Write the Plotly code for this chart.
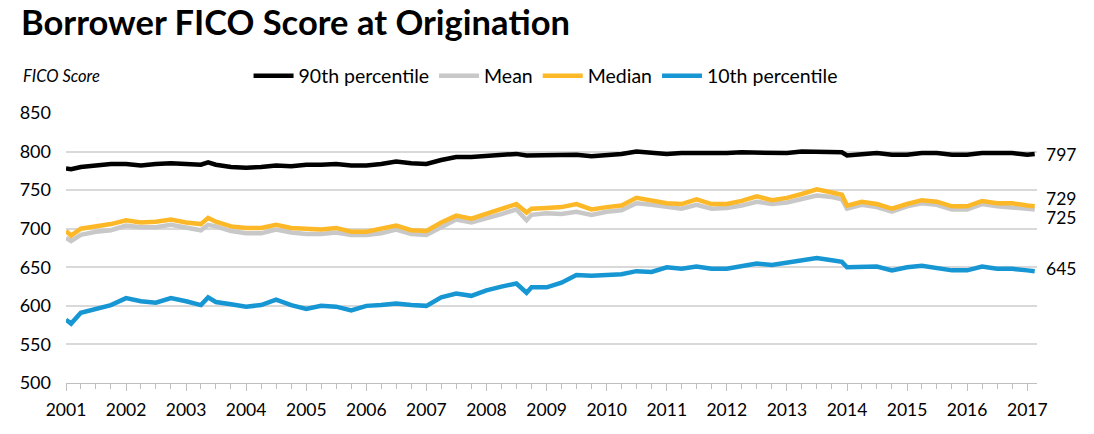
import plotly.graph_objects as go

dates = [
    "2001-01-01", "2001-02-01", "2001-04-01", "2001-07-01", "2001-10-01",
    "2002-01-01", "2002-04-01", "2002-07-01", "2002-10-01",
    "2003-01-01", "2003-04-01", "2003-05-15", "2003-07-01", "2003-10-01",
    "2004-01-01", "2004-04-01", "2004-07-01", "2004-10-01",
    "2005-01-01", "2005-04-01", "2005-07-01", "2005-10-01",
    "2006-01-01", "2006-04-01", "2006-07-01", "2006-10-01",
    "2007-01-01", "2007-04-01", "2007-07-01", "2007-10-01",
    "2008-01-01", "2008-04-01", "2008-07-01", "2008-09-01", "2008-10-01",
    "2009-01-01", "2009-04-01", "2009-07-01", "2009-10-01",
    "2010-01-01", "2010-04-01", "2010-07-01", "2010-10-01",
    "2011-01-01", "2011-04-01", "2011-07-01", "2011-10-01",
    "2012-01-01", "2012-04-01", "2012-07-01", "2012-10-01",
    "2013-01-01", "2013-04-01", "2013-07-01", "2013-10-01", "2013-12-01",
    "2014-01-01", "2014-04-01", "2014-07-01", "2014-10-01",
    "2015-01-01", "2015-04-01", "2015-07-01", "2015-10-01",
    "2016-01-01", "2016-04-01", "2016-07-01", "2016-10-01",
    "2017-01-01", "2017-02-15",
]

p90 = [778, 777, 780, 782, 784,
       784, 782, 784, 785,
       784, 783, 786, 783, 780,
       779, 780, 782, 781,
       783, 783, 784, 782,
       782, 784, 787, 785,
       784, 789, 793, 793,
       794, 796, 797, 795, 795,
       796, 796, 796, 794,
       795, 797, 800, 799,
       797, 798, 798, 797,
       798, 799, 799, 798,
       798, 800, 800, 800, 799,
       795, 797, 798, 796,
       796, 798, 798, 796,
       796, 798, 798, 798,
       796, 797]

mean = [688, 684, 692, 696, 698,
        704, 702, 702, 705,
        702, 698, 705, 703, 697,
        694, 694, 699, 695,
        693, 693, 695, 692,
        692, 694, 699, 693,
        692, 702, 712, 708,
        713, 719, 725, 711, 718,
        720, 719, 722, 718,
        722, 724, 733, 731,
        728, 726, 731, 726,
        727, 730, 735, 732,
        734, 738, 743, 741, 738,
        726, 731, 728, 722,
        729, 733, 731, 725,
        725, 732, 729, 728,
        726, 725]

median = [697, 691, 700, 703, 706,
          711, 708, 709, 712,
          708, 706, 714, 709, 703,
          701, 701, 705, 701,
          700, 699, 701, 696,
          696, 700, 704, 698,
          697, 708, 717, 713,
          719, 725, 732, 721, 726,
          727, 728, 732, 725,
          728, 730, 740, 737,
          733, 732, 738, 732,
          732, 736, 742, 737,
          740, 745, 751, 747, 744,
          730, 735, 732, 726,
          732, 737, 735, 729,
          729, 736, 733, 733,
          730, 729]

p10 = [582, 577, 591, 596, 601,
       610, 606, 604, 610,
       606, 601, 611, 605, 602,
       599, 601, 608, 601,
       596, 600, 599, 594,
       600, 601, 603, 601,
       600, 611, 616, 613,
       620, 625, 629, 617, 624,
       624, 630, 640, 639,
       640, 641, 645, 644,
       650, 648, 651, 648,
       648, 651, 655, 653,
       656, 660, 662, 659, 657,
       650, 650, 651, 646,
       650, 652, 649, 646,
       646, 651, 648, 648,
       646, 645]

series_names = ["90th percentile", "Mean", "Median", "10th percentile"]
series_colors = ["#000000", "#c8c8c8", "#fdb827", "#1696d2"]
series_values = [p90, mean, median, p10]
end_shift = [-1, -8, 8, 3]

TITLE = "Borrower FICO Score at Origina\u200ction"
FONT = "Lato, 'Open Sans', sans-serif"

fig = go.Figure()
for name, color, vals in zip(series_names, series_colors, series_values):
    fig.add_trace(go.Scatter(
        x=dates, y=vals, mode="lines", name=name,
        line=dict(color=color, width=4.5),
    ))

for vals, shift in zip(series_values, end_shift):
    fig.add_annotation(
        x=dates[-1], y=vals[-1], text=str(vals[-1]), showarrow=False,
        xanchor="left", yanchor="middle", xshift=9, yshift=shift,
        font=dict(family=FONT, size=17.5, color="#000000"),
    )

fig.add_annotation(
    xref="paper", yref="paper", x=-0.046, y=1.137, text="<i>FICO Score</i>",
    showarrow=False, xanchor="left", yanchor="middle",
    font=dict(family=FONT, size=16.5, color="#000000"),
)

fig.add_annotation(
    xref="paper", yref="paper", x=-0.048, y=1.34,
    text="<b>" + TITLE + "</b>",
    showarrow=False, xanchor="left", yanchor="middle",
    font=dict(family=FONT, size=34.5, color="#000000"),
)

fig.update_layout(
    width=1094, height=434,
    margin=dict(l=55, r=65, t=105, b=59),
    paper_bgcolor="white", plot_bgcolor="white",
    font=dict(family=FONT, size=17, color="#000000"),
    showlegend=True,
    legend=dict(
        orientation="h", x=0.188, xanchor="left", y=1.137, yanchor="middle",
        font=dict(family=FONT, size=19.5, color="#000000"),
        itemwidth=40, tracegroupgap=0, traceorder="normal",
        bgcolor="rgba(0,0,0,0)",
    ),
    xaxis=dict(
        type="date",
        range=["2001-01-01", "2017-03-01"],
        tick0="2001-01-01", dtick="M12", tickformat="%Y",
        ticks="outside", ticklen=7, tickcolor="#bfbfbf", tickwidth=1,
        minor=dict(dtick="M3", ticks="outside", ticklen=5, tickcolor="#bfbfbf", showgrid=False),
        showline=True, linecolor="#bfbfbf", linewidth=1,
        showgrid=False, zeroline=False,
        tickfont=dict(family=FONT, size=17.5, color="#000000"),
        ticklabelstandoff=4,
    ),
    yaxis=dict(
        range=[500, 850], dtick=50, tick0=500,
        showgrid=True, gridcolor="#d9d9d9", gridwidth=1.5,
        showline=False, zeroline=False, ticks="",
        tickfont=dict(family=FONT, size=18, color="#000000"),
        ticklabelstandoff=14,
    ),
)

fig.write_html("out.html")
